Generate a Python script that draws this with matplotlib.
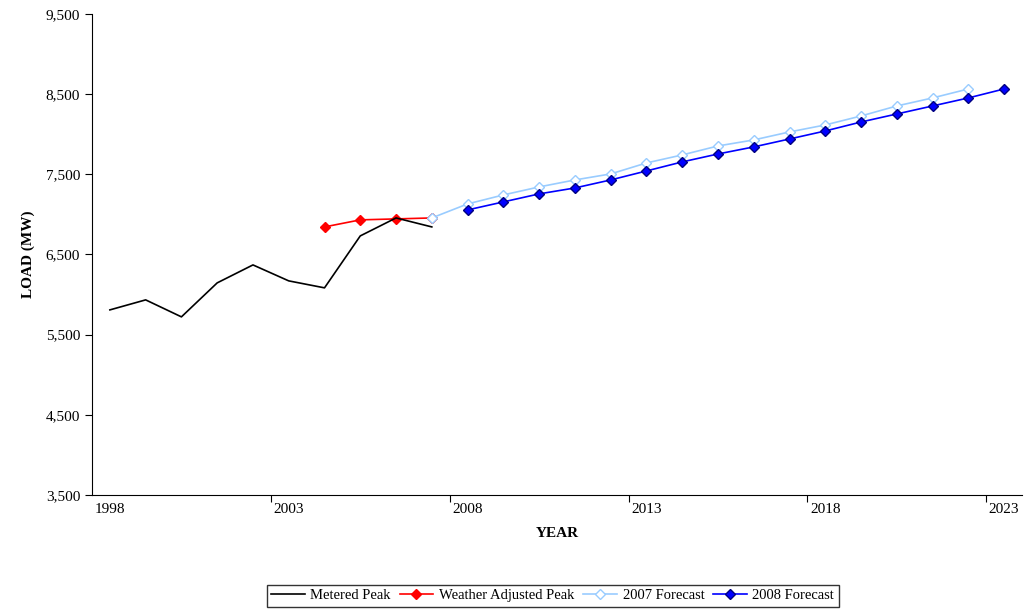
import matplotlib
matplotlib.use('Agg')
import matplotlib.pyplot as plt
import numpy as np

plt.rcParams['font.family'] = ['Liberation Serif', 'DejaVu Serif']

years = list(range(1998, 2024))
metered_years = list(range(1998, 2008))
metered = [5809, 5934, 5722, 6146, 6370, 6171, 6084, 6732, 6956, 6844]
weather_years = [2004, 2005, 2006, 2007]
weather = [6844, 6932, 6944, 6956]
f2007_years = list(range(2007, 2023))
f2007 = [6956, 7131, 7243, 7343, 7430, 7505, 7642, 7742, 7854, 7929, 8029,
         8116, 8228, 8353, 8453, 8565]
f2008_years = list(range(2008, 2024))
f2008 = [7056, 7156, 7256, 7330, 7430, 7542, 7655, 7754, 7842, 7941, 8041,
         8153, 8253, 8353, 8453, 8565]

fig = plt.figure(figsize=(10.29, 6.14), dpi=100)
ax = fig.add_axes([92/1029, 1-495/614, 930/1029, 481/614])

def pos(ys):
    return [y - 1998 for y in ys]

ax.plot(pos(metered_years), metered, color='black', lw=1.2, label='Metered Peak', zorder=4)
ax.plot(pos(weather_years), weather, color='#ff0000', lw=1.2, marker='D', ms=5,
        label='Weather Adjusted Peak', zorder=3)
ax.plot(pos(f2007_years), f2007, color='#99ccff', lw=1.2, marker='D', ms=5,
        mfc='white', mec='#99ccff', label='2007 Forecast', zorder=3)
ax.plot(pos(f2008_years), f2008, color='#0000ff', lw=1.2, marker='D', ms=5,
        mec='#000080', label='2008 Forecast', zorder=3)

ax.set_xlim(-0.5, len(years) - 0.5)
ax.set_ylim(3500, 9500)
ax.set_yticks(np.arange(3500, 9501, 1000))
ax.set_yticklabels([f'{v:,}' for v in range(3500, 9501, 1000)], fontsize=11)
ax.set_xticks([i * 5 + 4.5 for i in range(5)])
ax.set_xticklabels([])
ax.set_xticks(range(0, 26, 5), minor=True)
ax.set_xticklabels([str(years[i]) for i in range(0, 26, 5)], minor=True, fontsize=11)
ax.tick_params(axis='x', which='minor', length=0, pad=6)
ax.tick_params(axis='x', which='major', length=5, direction='out')
ax.tick_params(axis='y', length=5, direction='out')
for s in ['top', 'right']:
    ax.spines[s].set_visible(False)

ax.set_xlabel('YEAR', fontsize=11, fontweight='bold', labelpad=8)
ax.set_ylabel('LOAD (MW)', fontsize=11, fontweight='bold', labelpad=8)

fig.legend(loc='lower center', bbox_to_anchor=(0.537, 0.0), ncol=4, fontsize=10.5,
           frameon=True, fancybox=False, edgecolor='black', handlelength=2.3,
           columnspacing=0.6, handletextpad=0.4, borderpad=0.3)

fig.savefig('out.png', dpi=100)
